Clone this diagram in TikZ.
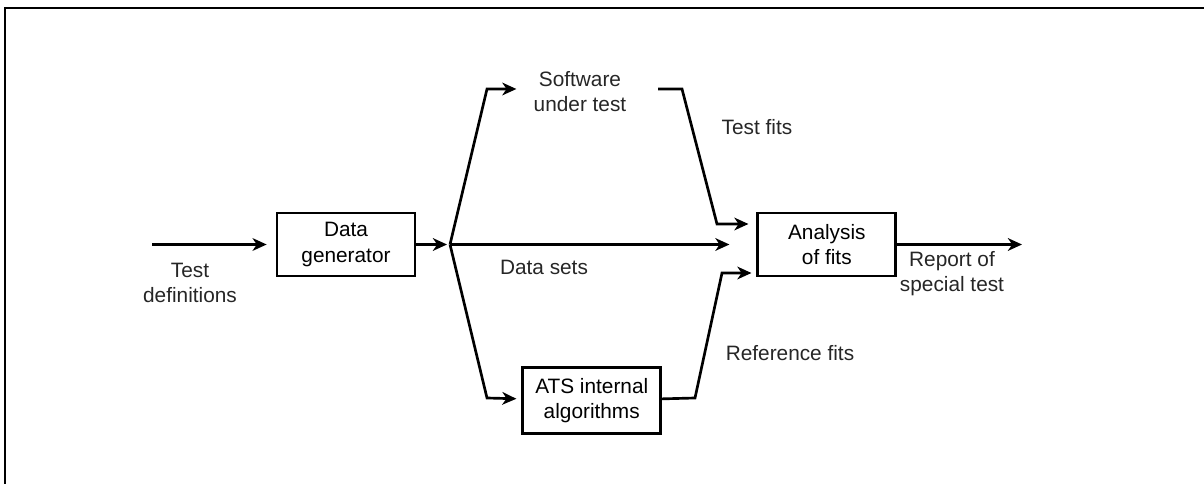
\documentclass[tikz,border=0pt]{standalone}
\usepackage{fontspec}
\setmainfont{Liberation Sans}
\usetikzlibrary{positioning,calc,arrows.meta}

\begin{document}
\begin{tikzpicture}[x=0.025cm,y=-0.025cm,>={Stealth[length=10pt,width=9pt,inset=3pt]},line width=1.9pt,
    block/.style={draw,align=center,minimum width=3.45cm,minimum height=1.575cm},
    label node/.style={align=center,inner sep=0pt,text=black!85},
    every node/.style={font=\fontsize{14.8}{17.8}\selectfont}]
    \useasboundingbox (0,0) rectangle (1204,484);
    % frame
      \draw[line width=2.1pt] (1204,8) -- (5,8) -- (5,484);
    % nodes
      \node[block] (gen) at (346,244.5) {Data\\generator};
      \node[block] (ana) [right = 8.5cm of gen] {Analysis\\of fits};
      \node[block, minimum height=1.65cm] (ats) [below right = 2.225cm and 2.625cm of gen] {ATS internal\\algorithms};
      \node[label node] (sut) at (580,92) {Software\\under test};
      \node[label node] (tdef) at (190,283) {Test\\definitions};
      \node[label node] (dsets) at (544,267) {Data sets};
      \node[label node] (tfits) at (757,127) {Test fits};
      \node[label node] (rfits) at (790,353) {Reference fits};
      \node[label node] (rep) at (952,274) {Report of\\special test};
    % bends
      \coordinate (in) at (152,244.5);
      \coordinate (split) at (450,244.5);
      \coordinate (sutin) at (487,89);
      \coordinate (tf1) at (658,89);
      \coordinate (tf2) at (682,89);
      \coordinate (tf3) at (717,224);
      \coordinate (atsin) at (487,398);
      \coordinate (rf1) at (695,398);
      \coordinate (rf2) at (722,273);
      \coordinate (out) at (1022,244.5);
    %edges
      \draw[->,shorten >=0.225cm] (in) -- (gen);
      \draw[->,shorten >=0.075cm] (gen) -- (split);
      \draw[->,shorten >=0.675cm] (split) -- (ana);
      \draw[->,shorten >=0.4cm] (split) -- (sutin) -- (sutin -| sut.west);
      \draw[->,shorten >=0.2cm] (tf1) -- (tf2) -- (tf3) -- (tf3 -| ana.west);
      \draw[->,shorten >=0.125cm] (split) -- (atsin) -- (ats);
      \draw[->,shorten >=0.125cm] (ats) -- (rf1) -- (rf2) -- (rf2 -| ana.west);
      \draw[->] (ana) -- (out);
\end{tikzpicture}
\end{document}
